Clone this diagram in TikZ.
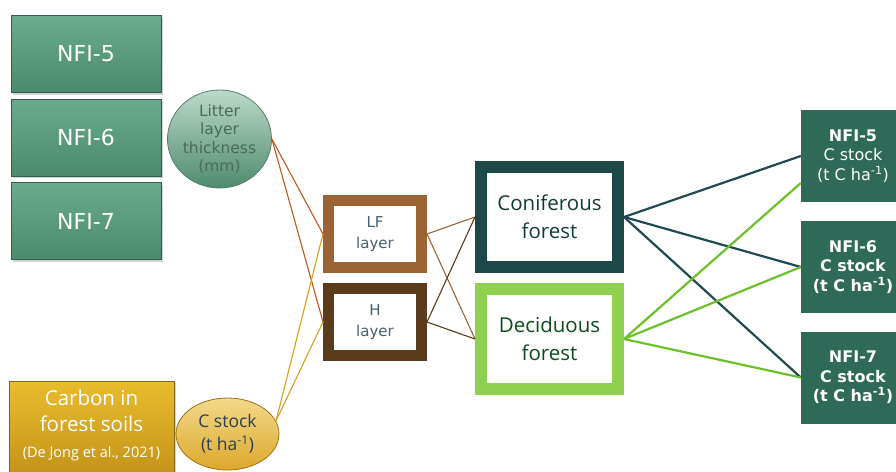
\documentclass[tikz,border=0pt]{standalone}
\usepackage{fontspec}
\setmainfont{DejaVu Sans}
\newfontfamily\osans{Open Sans}
\usetikzlibrary{shadows,calc,shapes.geometric}
\definecolor{nfitop}{HTML}{6AAA8E}
\definecolor{nfibot}{HTML}{4B8A6C}
\definecolor{nfidraw}{HTML}{2F5E4A}
\definecolor{littop}{HTML}{BCD9CA}
\definecolor{litbot}{HTML}{4E8B6E}
\definecolor{littxt}{HTML}{4A6A5A}
\definecolor{goldtop}{HTML}{E9BC2E}
\definecolor{goldbot}{HTML}{C39218}
\definecolor{csttop}{HTML}{F3D98A}
\definecolor{cstbot}{HTML}{DCA82C}
\definecolor{slate}{HTML}{2C3E50}
\definecolor{laytxt}{HTML}{4A6070}
\definecolor{lfcol}{HTML}{9C6434}
\definecolor{hcol}{HTML}{5A3B1C}
\definecolor{concol}{HTML}{1C4848}
\definecolor{deccol}{HTML}{8FD14F}
\definecolor{rbox}{HTML}{2F6A58}
\definecolor{litline}{HTML}{C0561A}
\definecolor{cstline}{HTML}{D4A020}
\definecolor{conline}{HTML}{1E4A50}
\definecolor{decline}{HTML}{6CC02A}
\tikzset{
  shd/.style={drop shadow={opacity=0.35,shadow xshift=1.5pt,shadow yshift=-2pt}},
  nfibox/.style={shd,rectangle,top color=nfitop,bottom color=nfibot,draw=nfidraw,line width=0.8pt,
    minimum width=150pt,minimum height=77pt,text=white,font=\fontsize{22}{26}\selectfont,inner sep=0pt},
  layerbox/.style={shd,rectangle,fill=white,line width=11pt,minimum width=93pt,minimum height=67pt,
    inner sep=0pt,align=center,text=laytxt,font=\fontsize{15}{21.5}\selectfont},
  forestbox/.style={shd,rectangle,fill=white,line width=12pt,minimum width=137pt,minimum height=100pt,
    inner sep=0pt,align=center,font=\osans\fontsize{20.5}{28}\selectfont},
  resbox/.style={rectangle,fill=rbox,minimum width=104pt,minimum height=92pt,inner sep=0pt,
    align=center,text=white,font=\fontsize{16}{19.5}\selectfont},
  conn/.style={line width=1.1pt},
  thick conn/.style={line width=2.2pt}
}
\begin{document}
\begin{tikzpicture}[x=1pt,y=-1pt]
\useasboundingbox (0,0) rectangle (896,471);
% left NFI boxes
\node[nfibox] (n5) at (86,54) {NFI-5};
\node[nfibox] (n6) at (86,137.5) {NFI-6};
\node[nfibox] (n7) at (86,221) {NFI-7};
% litter ellipse
\node[ellipse,top color=littop,bottom color=litbot,draw=nfidraw!80,line width=0.8pt,
  minimum width=104pt,minimum height=92pt,inner sep=0pt,align=center,text=littxt,
  font=\fontsize{15.5}{18.5}\selectfont] (lit) at (219.5,139) {Litter\\layer\\thickness\\(mm)};
% carbon box
\node[shd,rectangle,top color=goldtop,bottom color=goldbot,draw=goldbot!70!black,line width=0.8pt,
  minimum width=165pt,minimum height=96pt,inner sep=0pt] (carb) at (91.5,429) {};
\node[text=white,font=\osans\fontsize{20.5}{26}\selectfont,align=center] (carbt) at (91.5,411) {Carbon in\\forest soils};
\node[text=white,font=\osans\fontsize{14.5}{16}\selectfont] (carbr) at (91.5,454) {(De Jong et al., 2021)};
% C stock ellipse
\node[ellipse,top color=csttop,bottom color=cstbot,draw=goldbot!80!black,line width=0.8pt,
  minimum width=103pt,minimum height=72pt,inner sep=0pt,align=center,text=slate,
  font=\osans\fontsize{17.5}{23}\selectfont] (cs) at (227.5,434) {C stock\\(t ha\textsuperscript{-1})};
% layer boxes
\node[layerbox,draw=lfcol] (lf) at (375,234) {LF\\layer};
\node[layerbox,draw=hcol] (hl) at (375,322) {H\\layer};
% forest boxes
\node[forestbox,draw=concol,text=concol!80!black] (con) at (549.5,217) {Coniferous\\forest};
\node[forestbox,draw=deccol,text=concol!70!green!60!black] (dec) at (549.5,339) {Deciduous\\forest};
% right result boxes
\node[resbox] (r5) at (853,156) {\textbf{NFI-5}\\C stock\\(t C ha\textsuperscript{-1})};
\node[resbox] (r6) at (853,267) {\textbf{NFI-6}\\\textbf{C stock}\\\textbf{(t C ha\textsuperscript{-1})}};
\node[resbox] (r7) at (853,377.5) {\textbf{NFI-7}\\\textbf{C stock}\\\textbf{(t C ha\textsuperscript{-1})}};
% connectors
\draw[conn,draw=litline] (lit.east) -- (lf.west);
\draw[conn,draw=litline] (lit.east) -- (hl.west);
\draw[conn,draw=cstline] (cs.15) -- (lf.west);
\draw[conn,draw=cstline] (cs.15) -- (hl.west);
\draw[conn,draw=lfcol] (lf.east) -- (con.west);
\draw[conn,draw=lfcol] (lf.east) -- (dec.west);
\draw[conn,draw=hcol] (hl.east) -- (con.west);
\draw[conn,draw=hcol] (hl.east) -- (dec.west);
\draw[thick conn,draw=conline] (con.east) -- (r5.west);
\draw[thick conn,draw=conline] (con.east) -- (r6.west);
\draw[thick conn,draw=conline] (con.east) -- (r7.west);
\draw[thick conn,draw=decline] (dec.east) -- ([yshift=-27pt]r5.west);
\draw[thick conn,draw=decline] (dec.east) -- (r6.west);
\draw[thick conn,draw=decline] (dec.east) -- (r7.west);
\end{tikzpicture}
\end{document}
